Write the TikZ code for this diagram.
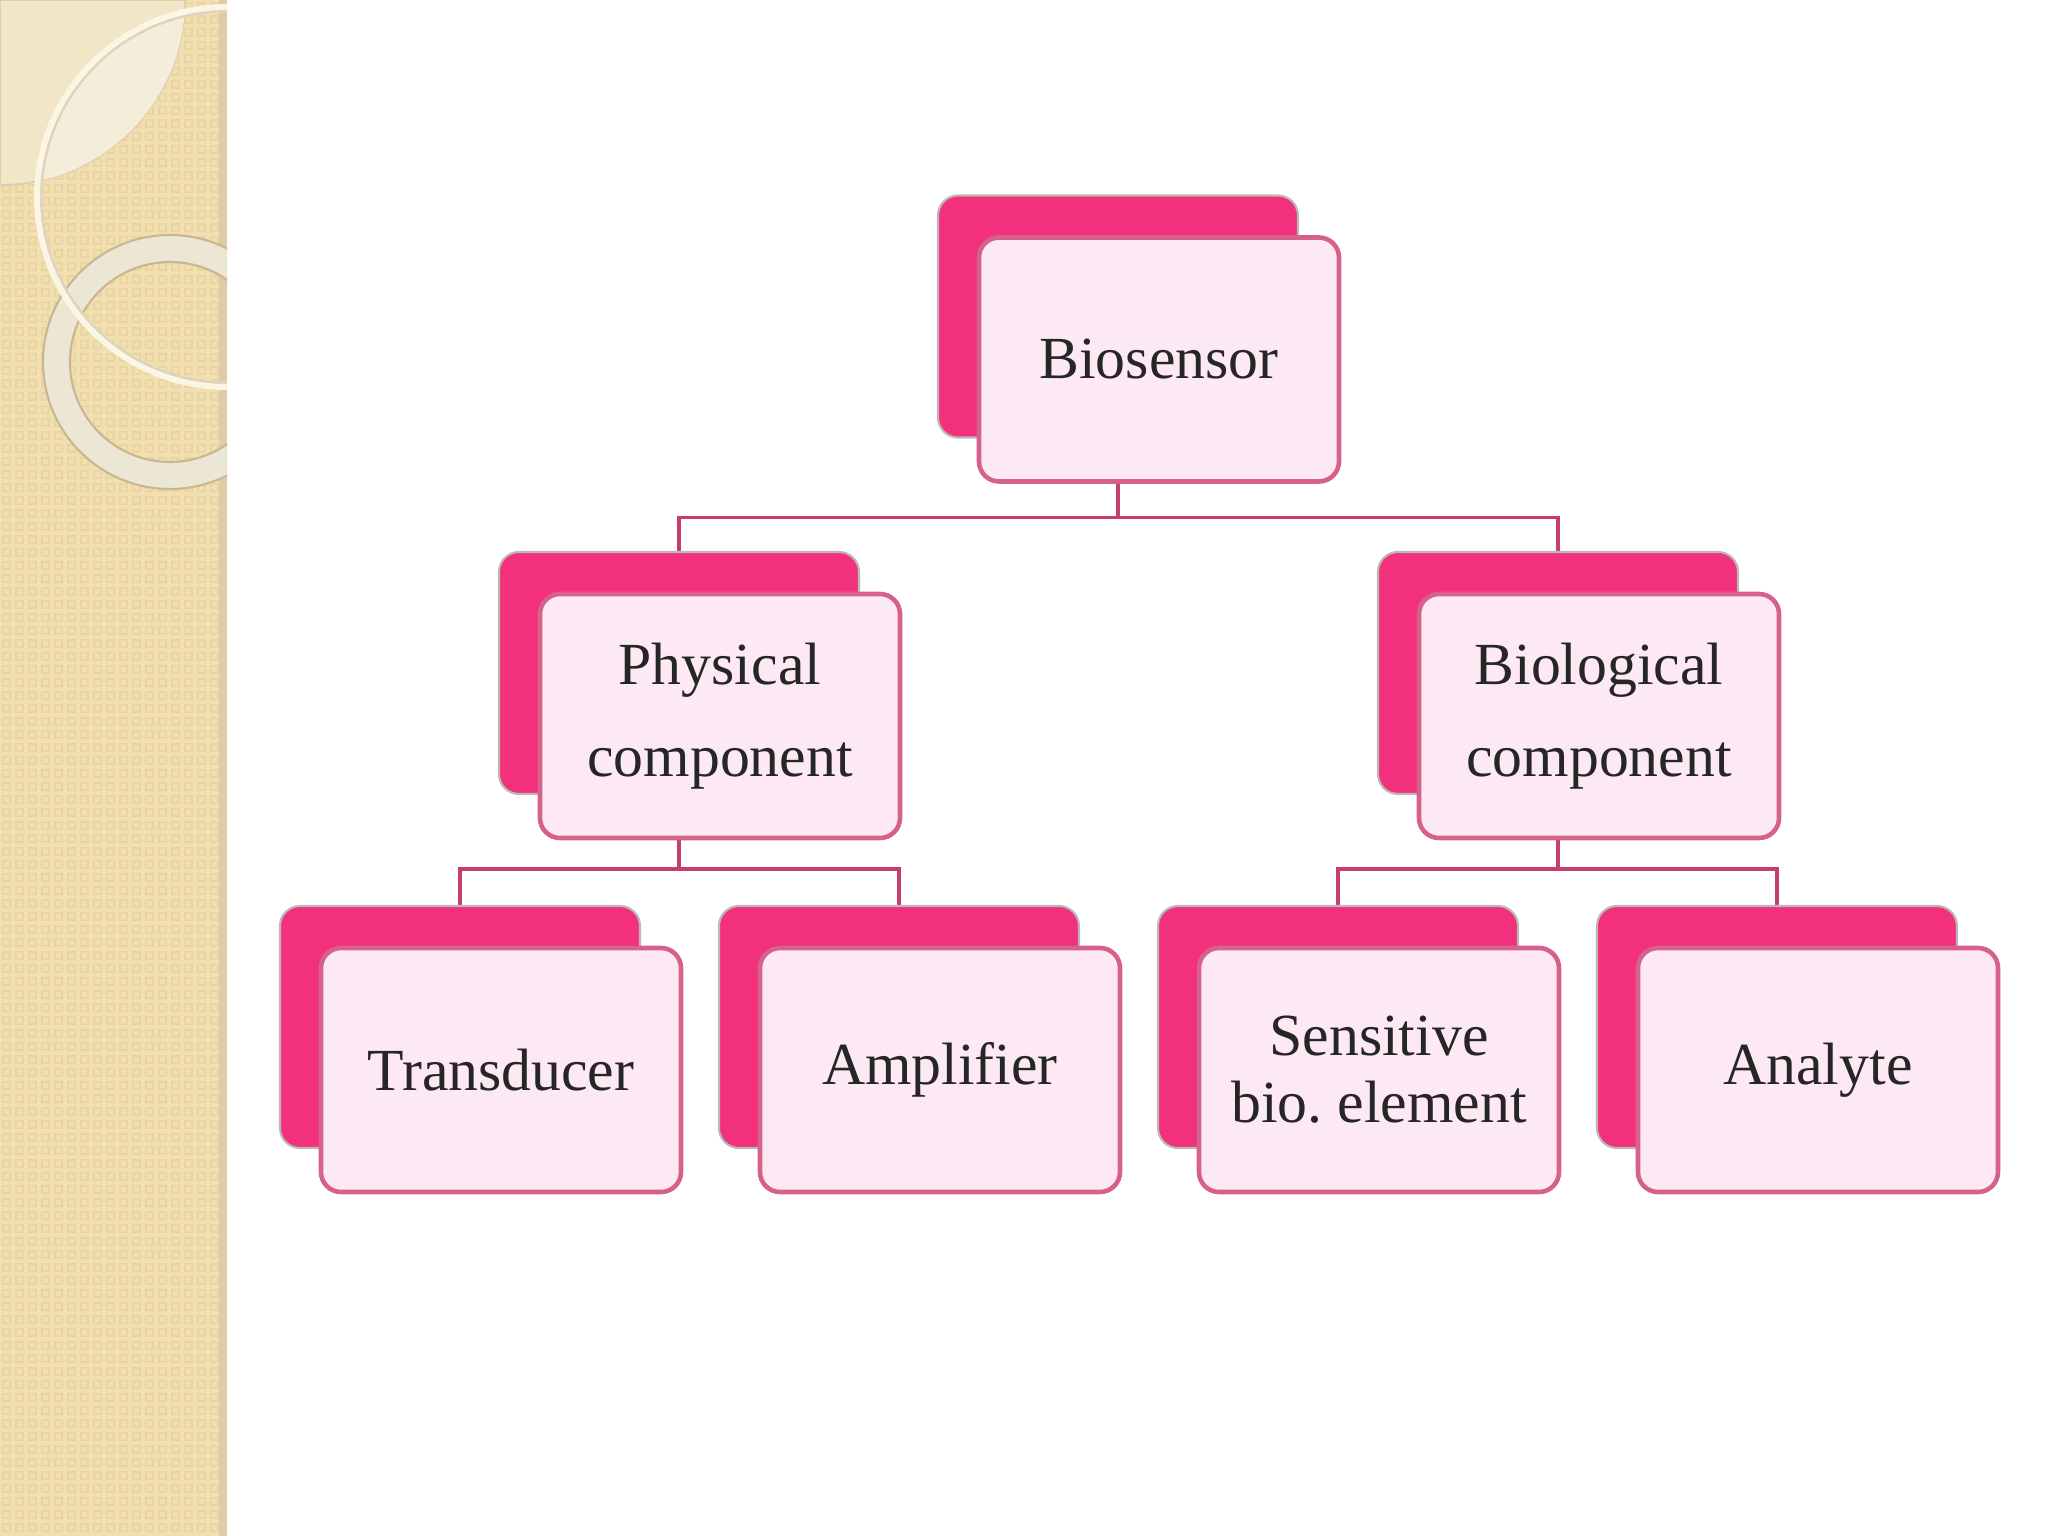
\documentclass[tikz,border=0pt]{standalone}
\usepackage{fontspec}
\setmainfont{Liberation Serif}
\usetikzlibrary{positioning,backgrounds}
\definecolor{stripbg}{RGB}{242,223,176}
\definecolor{stripsq}{RGB}{234,212,163}
\definecolor{stripedge}{RGB}{222,204,166}
\definecolor{quartfill}{RGB}{241,230,198}
\definecolor{lensfill}{RGB}{244,237,217}
\definecolor{ringfill}{RGB}{236,230,213}
\definecolor{ringedge}{RGB}{200,184,146}
\definecolor{ringwhite}{RGB}{251,245,228}
\definecolor{hotpink}{RGB}{242,48,123}
\definecolor{palepink}{RGB}{253,233,243}
\definecolor{frontedge}{RGB}{214,98,140}
\definecolor{linkred}{RGB}{198,62,108}
\tikzset{
  backbox/.style={rectangle, rounded corners=0.2cm, fill=hotpink,
    draw=gray!55, line width=0.6pt, minimum width=3.6cm, minimum height=2.42cm},
  frontbox/.style={rectangle, rounded corners=0.2cm, fill=palepink,
    draw=frontedge, line width=1.3pt, minimum width=3.6cm, minimum height=2.44cm,
    align=center, text=black!85, font=\fontsize{17}{21}\selectfont},
  link/.style={draw=linkred, line width=1.1pt}
}

\begin{document}
\begin{tikzpicture}
  \useasboundingbox (0,0) rectangle (20.48,-15.36);
  \begin{scope}[on background layer]
    \fill[white] (0,0) rectangle (20.48,-15.36);
  \end{scope}

  % left strip
  \begin{scope}
    \clip (0,0) rectangle (2.27,-15.36);
    \fill[stripbg] (0,0) rectangle (2.27,-15.36);
    \draw[stripsq, line width=0.35pt]
      \foreach \i in {0,...,17} {\foreach \j in {0,...,118} {
        (\i*0.13+0.03, -\j*0.13-0.03) rectangle ++(0.07,-0.07)}};
    \fill[stripedge] (2.19,0) rectangle (2.27,-15.36);
    % quarter disk and lens
    \fill[quartfill, draw=ringedge!70, line width=0.5pt]
      (0,0) -- (1.85,0) arc[start angle=0, end angle=-90, radius=1.85] -- cycle;
    \begin{scope}
      \clip (0,0) -- (1.85,0) arc[start angle=0, end angle=-90, radius=1.85] -- cycle;
      \fill[lensfill] (2.27,-1.97) circle (1.9);
    \end{scope}
    % thick ring
    \fill[ringfill, even odd rule] (1.70,-3.62) circle (1.27) (1.70,-3.62) circle (1.0);
    \draw[ringedge, line width=0.6pt] (1.70,-3.62) circle (1.27);
    \draw[ringedge, line width=0.6pt] (1.70,-3.62) circle (1.0);
    % thin ring
    \draw[ringedge!60, line width=0.03cm] (2.27,-1.97) circle (1.86);
    \draw[ringwhite, line width=0.06cm] (2.27,-1.97) circle (1.9);
  \end{scope}

  % back boxes
  \node[backbox] (bio-b) at (11.18,-3.165) {};
  \node[backbox] (phys-b) at (6.79,-6.73) {};
  \node[backbox] (biol-b) at (15.58,-6.73) {};
  \node[backbox] (trans-b) at (4.60,-10.27) {};
  \node[backbox] (amp-b) at (8.99,-10.27) {};
  \node[backbox] (sens-b) at (13.38,-10.27) {};
  \node[backbox] (ana-b) at (17.77,-10.27) {};

  % front boxes
  \node[frontbox] (bio) at ([shift={(0.41,-0.43)}]bio-b) {Biosensor};
  \node[frontbox] (phys) at ([shift={(0.41,-0.43)}]phys-b) {Physical\\[5pt]component};
  \node[frontbox] (biol) at ([shift={(0.41,-0.43)}]biol-b) {Biological\\[5pt]component};
  \node[frontbox] (trans) at ([shift={(0.41,-0.43)}]trans-b) {Transducer};
  \node[frontbox] (amp) at ([shift={(0.41,-0.43)}]amp-b) {Amplifier};
  \node[frontbox] (sens) at ([shift={(0.41,-0.43)}]sens-b) {Sensitive\\[-2pt]bio.\ element};
  \node[frontbox] (ana) at ([shift={(0.41,-0.43)}]ana-b) {Analyte};

  % connectors
  \begin{scope}[on background layer]
    \draw[link] (bio-b.south) -- ++(0,-0.79) -| (phys-b.north);
    \draw[link] (bio-b.south) -- ++(0,-0.79) -| (biol-b.north);
    \draw[link] (phys-b.south) -- ++(0,-0.74) -| (trans-b.north);
    \draw[link] (phys-b.south) -- ++(0,-0.74) -| (amp-b.north);
    \draw[link] (biol-b.south) -- ++(0,-0.74) -| (sens-b.north);
    \draw[link] (biol-b.south) -- ++(0,-0.74) -| (ana-b.north);
  \end{scope}
\end{tikzpicture}
\end{document}
